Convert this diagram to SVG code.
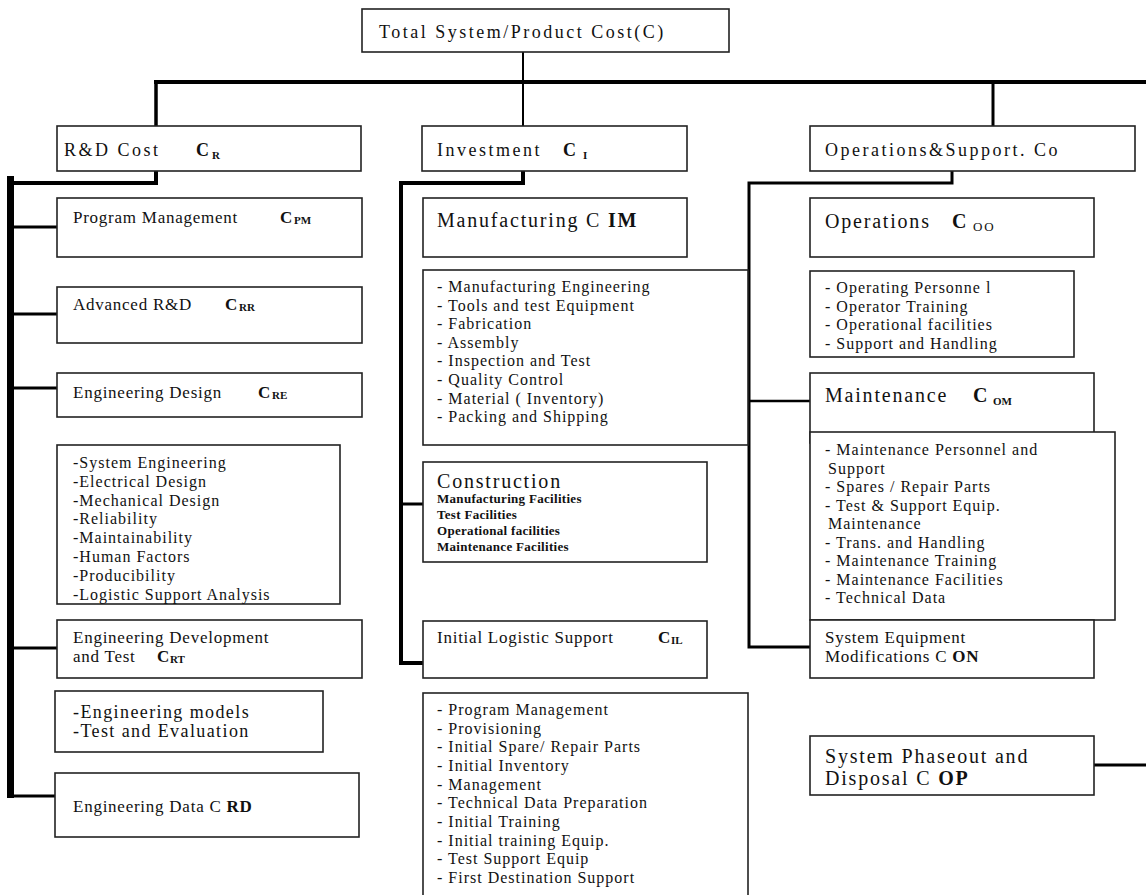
<svg xmlns="http://www.w3.org/2000/svg" width="1146" height="895" viewBox="0 0 1146 895">
<style>
  .box { fill: #fff; stroke: #222; stroke-width: 1.6; }
  .ln { fill: none; stroke: #000; stroke-linecap: square; }
  text { font-family: "Liberation Serif", "Times New Roman", serif; fill: #111; }
  .hd { font-size: 18px; letter-spacing: 2.5px; }
  .lb { font-size: 17px; letter-spacing: 0.75px; }
  .li { font-size: 16px; letter-spacing: 1px; }
  .em { font-size: 18px; letter-spacing: 1.4px; }
  .bg { font-size: 20px; letter-spacing: 1.8px; }
  .cs { font-size: 13px; font-weight: bold; letter-spacing: 0.3px; }
  .b { font-weight: bold; }
  .sub { font-size: 11px; font-weight: bold; letter-spacing: 0; }
</style>
<rect width="1146" height="895" fill="#fff"/>

<g id="connectors">
  <line class="ln" x1="523" y1="52" x2="523" y2="82" stroke-width="2"/>
  <line class="ln" x1="156" y1="82" x2="1146" y2="82" stroke-width="4"/>
  <line class="ln" x1="156" y1="82" x2="156" y2="126" stroke-width="3.5"/>
  <line class="ln" x1="523" y1="82" x2="523" y2="126" stroke-width="2"/>
  <line class="ln" x1="993" y1="82" x2="993" y2="126" stroke-width="3"/>
  <!-- R&D branch -->
  <polyline class="ln" points="156,171 156,183 12,183" stroke-width="4"/>
  <line x1="10.5" y1="176" x2="10.5" y2="798" stroke="#000" stroke-width="7"/>
  <line class="ln" x1="12" y1="227" x2="57" y2="227" stroke-width="3"/>
  <line class="ln" x1="12" y1="314" x2="57" y2="314" stroke-width="3"/>
  <line class="ln" x1="12" y1="388" x2="57" y2="388" stroke-width="3"/>
  <line class="ln" x1="12" y1="648" x2="57" y2="648" stroke-width="3"/>
  <line class="ln" x1="12" y1="796" x2="55" y2="796" stroke-width="3"/>
  <!-- Investment branch -->
  <polyline class="ln" points="523,171 523,183 401,183 401,663 423,663" stroke-width="4" stroke-linejoin="miter"/>
  <line class="ln" x1="401" y1="504" x2="423" y2="504" stroke-width="3"/>
  <!-- O&S branch -->
  <polyline class="ln" points="952,171 952,183 749,183 749,647 810,647" stroke-width="3" stroke-linejoin="miter"/>
  <line class="ln" x1="749" y1="401" x2="810" y2="401" stroke-width="2.5"/>
  <line class="ln" x1="1094" y1="765" x2="1146" y2="765" stroke-width="3"/>
</g>

<g id="total">
  <rect class="box" x="362" y="9" width="367" height="43"/>
  <text class="hd" x="379" y="38">Total System/Product Cost(C)</text>
</g>

<g id="rd-cost">
  <rect class="box" x="57" y="126" width="304" height="45"/>
  <text class="hd" x="64" y="156">R&amp;D Cost<tspan class="b" x="196">C</tspan><tspan class="sub" x="212" dy="3">R</tspan></text>
</g>
<g id="investment">
  <rect class="box" x="422" y="126" width="265" height="45"/>
  <text class="hd" x="437" y="156">Investment<tspan class="b" x="563">C</tspan><tspan class="sub" x="583" dy="3">I</tspan></text>
</g>
<g id="ops-support">
  <rect class="box" x="810" y="126" width="325" height="45"/>
  <text class="hd" x="825" y="156">Operations&amp;Support. Co</text>
</g>

<g id="program-mgmt">
  <rect class="box" x="57" y="198" width="305" height="59"/>
  <text class="lb" x="73" y="223">Program Management<tspan class="b" x="280">C</tspan><tspan class="sub" x="294" dy="1">PM</tspan></text>
</g>
<g id="advanced-rd">
  <rect class="box" x="57" y="287" width="305" height="56"/>
  <text class="lb" x="73" y="310">Advanced R&amp;D<tspan class="b" x="225">C</tspan><tspan class="sub" x="239" dy="1">RR</tspan></text>
</g>
<g id="eng-design">
  <rect class="box" x="57" y="373" width="305" height="44"/>
  <text class="lb" x="73" y="398">Engineering Design<tspan class="b" x="258">C</tspan><tspan class="sub" x="272" dy="1">RE</tspan></text>
</g>
<g id="eng-design-list">
  <rect class="box" x="57" y="445" width="283" height="159"/>
  <text class="li" x="73" y="468">-System Engineering</text>
  <text class="li" x="73" y="486.8">-Electrical Design</text>
  <text class="li" x="73" y="505.6">-Mechanical Design</text>
  <text class="li" x="73" y="524.4">-Reliability</text>
  <text class="li" x="73" y="543.2">-Maintainability</text>
  <text class="li" x="73" y="562">-Human Factors</text>
  <text class="li" x="73" y="580.8">-Producibility</text>
  <text class="li" x="73" y="599.6">-Logistic Support Analysis</text>
</g>
<g id="eng-dev">
  <rect class="box" x="57" y="620" width="305" height="58"/>
  <text class="lb" x="73" y="643">Engineering Development</text>
  <text class="lb" x="73" y="662">and Test<tspan class="b" x="157">C</tspan><tspan class="sub" x="170" dy="1">RT</tspan></text>
</g>
<g id="eng-models">
  <rect class="box" x="55" y="691" width="268" height="61"/>
  <text class="em" x="73" y="718">-Engineering models</text>
  <text class="em" x="73" y="737">-Test and Evaluation</text>
</g>
<g id="eng-data">
  <rect class="box" x="55" y="773" width="304" height="64"/>
  <text class="lb" x="73" y="812">Engineering Data C <tspan class="b">RD</tspan></text>
</g>

<g id="manufacturing">
  <rect class="box" x="423" y="198" width="264" height="59"/>
  <text class="bg" x="437" y="227">Manufacturing C <tspan class="b">IM</tspan></text>
</g>
<g id="manufacturing-list">
  <rect class="box" x="423" y="270" width="325" height="175"/>
  <text class="li" x="437" y="292">- Manufacturing Engineering</text>
  <text class="li" x="437" y="310.6">- Tools and test Equipment</text>
  <text class="li" x="437" y="329.2">- Fabrication</text>
  <text class="li" x="437" y="347.8">- Assembly</text>
  <text class="li" x="437" y="366.4">- Inspection and Test</text>
  <text class="li" x="437" y="385">- Quality Control</text>
  <text class="li" x="437" y="403.6">- Material ( Inventory)</text>
  <text class="li" x="437" y="422.2">- Packing   and Shipping</text>
</g>
<g id="construction">
  <rect class="box" x="423" y="462" width="284" height="100"/>
  <text class="bg" x="437" y="488">Construction</text>
  <text class="cs" x="437" y="503">Manufacturing Facilities</text>
  <text class="cs" x="437" y="519">Test Facilities</text>
  <text class="cs" x="437" y="535">Operational facilities</text>
  <text class="cs" x="437" y="551">Maintenance Facilities</text>
</g>
<g id="initial-logistic">
  <rect class="box" x="423" y="621" width="284" height="57"/>
  <text class="lb" x="437" y="643">Initial Logistic Support<tspan class="b" x="658">C</tspan><tspan class="sub" x="671" dy="1">IL</tspan></text>
</g>
<g id="initial-logistic-list">
  <rect class="box" x="423" y="693" width="325" height="215"/>
  <text class="li" x="437" y="715">- Program Management</text>
  <text class="li" x="437" y="733.7">- Provisioning</text>
  <text class="li" x="437" y="752.3">- Initial Spare/ Repair Parts</text>
  <text class="li" x="437" y="771">- Initial Inventory</text>
  <text class="li" x="437" y="789.7">- Management</text>
  <text class="li" x="437" y="808.3">- Technical Data Preparation</text>
  <text class="li" x="437" y="827">- Initial Training</text>
  <text class="li" x="437" y="845.7">- Initial training Equip.</text>
  <text class="li" x="437" y="864.3">- Test Support Equip</text>
  <text class="li" x="437" y="883">- First Destination Support</text>
</g>

<g id="operations">
  <rect class="box" x="810" y="198" width="284" height="59"/>
  <text class="bg" x="825" y="228">Operations<tspan class="b" x="952">C</tspan><tspan font-size="13" x="973" dy="3">OO</tspan></text>
</g>
<g id="operations-list">
  <rect class="box" x="810" y="271" width="264" height="86"/>
  <text class="li" x="825" y="293">- Operating Personne l</text>
  <text class="li" x="825" y="311.5">- Operator Training</text>
  <text class="li" x="825" y="330">- Operational facilities</text>
  <text class="li" x="825" y="348.5">- Support and Handling</text>
</g>
<g id="maintenance">
  <rect class="box" x="810" y="373" width="284" height="70"/>
  <text class="bg" x="825" y="402">Maintenance<tspan class="b" x="973">C</tspan><tspan class="sub" font-size="13" x="993" dy="3">OM</tspan></text>
</g>
<g id="maintenance-list">
  <rect class="box" x="810" y="432" width="305" height="188"/>
  <text class="li" x="825" y="455">- Maintenance Personnel and</text>
  <text class="li" x="828" y="473.5">Support</text>
  <text class="li" x="825" y="492">- Spares / Repair Parts</text>
  <text class="li" x="825" y="510.5">- Test &amp; Support Equip.</text>
  <text class="li" x="828" y="529">Maintenance</text>
  <text class="li" x="825" y="547.5">- Trans. and Handling</text>
  <text class="li" x="825" y="566">- Maintenance Training</text>
  <text class="li" x="825" y="584.5">- Maintenance Facilities</text>
  <text class="li" x="825" y="603">- Technical Data</text>
</g>
<g id="system-modifications">
  <rect class="box" x="810" y="620" width="284" height="58"/>
  <text class="lb" x="825" y="643">System Equipment</text>
  <text class="lb" x="825" y="662">Modifications C <tspan class="b">ON</tspan></text>
</g>
<g id="phaseout">
  <rect class="box" x="810" y="736" width="284" height="59"/>
  <text class="bg" x="825" y="763">System Phaseout and</text>
  <text class="bg" x="825" y="785">Disposal C <tspan class="b">OP</tspan></text>
</g>
</svg>
